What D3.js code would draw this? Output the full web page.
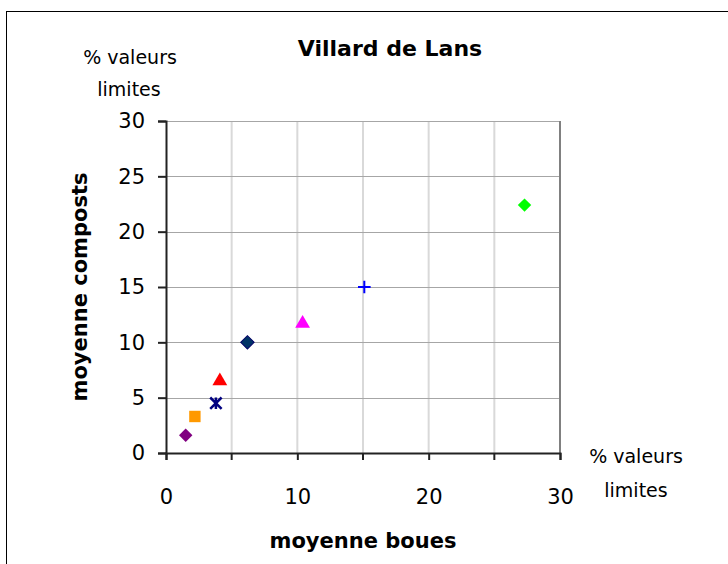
<!DOCTYPE html>
<html>
<head>
<meta charset="utf-8">
<script src="https://cdn.jsdelivr.net/npm/d3@7"></script>
<style>
  body { margin: 0; background: #fff; }
  .lbl { font-family: "Comic Sans MS", "DejaVu Sans", sans-serif; }
  .tick text { font-family: "Comic Sans MS", "DejaVu Sans", sans-serif; font-size: 21px; fill: #000; }
</style>
</head>
<body>
<div id="chart"></div>
<script>
// values
var boues    = [1.5, 2.2, 3.8, 4.1, 6.2, 10.4, 15.1, 27.3];
var composts = [1.6, 3.3, 4.5, 6.5, 10.0, 11.7, 15.0, 22.4];
var ticks = [0, 5, 10, 15, 20, 25, 30];
var xTicks = [0, 10, 20, 30];

// marker look for each point
var markerShapes = ['diamond', 'square', 'star', 'triangle', 'diamond', 'triangle', 'plus', 'diamond'];
var markerColors = ['#800080', '#ff9900', '#000080', '#ff0000', '#003366', '#ff00ff', '#0000ff', '#00ff00'];

var width = 728, height = 564;
var pLeft = 166, pRight = 560, pTop = 121, pBottom = 453;

var svg = d3.select("#chart").append("svg")
    .attr("width", width)
    .attr("height", height);

// chart border
svg.append("rect")
  .attr("x", 6.5).attr("y", 11.5)
  .attr("width", 740).attr("height", 600)
  .attr("fill", "none").attr("stroke", "#000").attr("stroke-width", 1);

var x = d3.scaleLinear().domain([0, 30]).range([pLeft, pRight]);
var y = d3.scaleLinear().domain([0, 30]).range([pBottom, pTop]);

// grid
svg.append("g").selectAll("line")
  .data([5, 10, 15, 20, 25])
  .enter().append("line")
    .attr("x1", function(d) { return x(d); }).attr("x2", function(d) { return x(d); })
    .attr("y1", pTop).attr("y2", pBottom)
    .attr("stroke", "#d9d9d9").attr("stroke-width", 2);

svg.append("g").selectAll("line")
  .data([5, 10, 15, 20, 25, 30])
  .enter().append("line")
    .attr("x1", pLeft).attr("x2", pRight)
    .attr("y1", function(d) { return Math.round(y(d)) + 0.5; })
    .attr("y2", function(d) { return Math.round(y(d)) + 0.5; })
    .attr("stroke", "#a6a6a6").attr("stroke-width", 1);

// right border of plot
svg.append("line")
  .attr("x1", pRight).attr("x2", pRight).attr("y1", pTop).attr("y2", pBottom)
  .attr("stroke", "#808080").attr("stroke-width", 2);

// axes
svg.append("g")
  .attr("transform", "translate(" + pLeft + ",0)")
  .call(d3.axisLeft(y).tickValues(ticks).tickSizeOuter(0).tickSize(8).tickPadding(13));
svg.append("g")
  .attr("transform", "translate(0," + pBottom + ")")
  .call(d3.axisBottom(x).tickValues(xTicks).tickSizeOuter(0).tickSize(7).tickPadding(29));

// extra x ticks without labels
svg.append("g").selectAll("line")
  .data([5, 15, 25])
  .enter().append("line")
    .attr("x1", function(d) { return x(d); }).attr("x2", function(d) { return x(d); })
    .attr("y1", pBottom).attr("y2", pBottom + 7)
    .attr("stroke", "#222").attr("stroke-width", 2);

svg.selectAll(".domain").attr("stroke", "#222").attr("stroke-width", 2);
svg.selectAll(".tick line").attr("stroke", "#222").attr("stroke-width", 2);

// custom line symbols
var plusSym = { draw: function(c, s) { var r = Math.sqrt(s) / 2;
  c.moveTo(-r, 0); c.lineTo(r, 0); c.moveTo(0, -r); c.lineTo(0, r); } };
var starSym = { draw: function(c, s) { var r = Math.sqrt(s) / 2;
  c.moveTo(-r, -r); c.lineTo(r, r); c.moveTo(-r, r); c.lineTo(r, -r);
  c.moveTo(0, -r); c.lineTo(0, r); } };

function symbolFor(shape) {
  if (shape === 'diamond') return d3.symbol().type(d3.symbolSquare).size(90)();
  if (shape === 'square') return d3.symbol().type(d3.symbolSquare).size(130)();
  if (shape === 'triangle') return d3.symbol().type(d3.symbolTriangle).size(95)();
  if (shape === 'plus') return d3.symbol().type(plusSym).size(160)();
  return d3.symbol().type(starSym).size(130)();
}

svg.append("g").selectAll("path")
  .data(boues)
  .enter().append("path")
    .attr("d", function(d, i) { return symbolFor(markerShapes[i]); })
    .attr("transform", function(d, i) {
      var t = "translate(" + x(d) + "," + y(composts[i]) + ")";
      return markerShapes[i] === 'diamond' ? t + "rotate(45)" : t;
    })
    .attr("fill", function(d, i) {
      var s = markerShapes[i];
      return (s === 'plus' || s === 'star') ? "none" : markerColors[i];
    })
    .attr("stroke", function(d, i) {
      var s = markerShapes[i];
      if (s === 'plus' || s === 'star') return markerColors[i];
      return i === 4 ? "#000066" : "none";
    })
    .attr("stroke-width", function(d, i) {
      var s = markerShapes[i];
      if (s === 'star') return 2.5;
      return s === 'plus' ? 2 : 1;
    });

// texts
svg.append("text").attr("class", "lbl")
  .attr("x", 390).attr("y", 56)
  .attr("text-anchor", "middle").style("font-size", "22px").style("font-weight", "bold")
  .text("Villard de Lans");

svg.append("text").attr("class", "lbl")
  .attr("x", 130).attr("y", 64).attr("text-anchor", "middle").style("font-size", "19px")
  .text("% valeurs");
svg.append("text").attr("class", "lbl")
  .attr("x", 129).attr("y", 96).attr("text-anchor", "middle").style("font-size", "19px")
  .text("limites");

svg.append("text").attr("class", "lbl")
  .attr("x", 636).attr("y", 463).attr("text-anchor", "middle").style("font-size", "19px")
  .text("% valeurs");
svg.append("text").attr("class", "lbl")
  .attr("x", 636).attr("y", 497).attr("text-anchor", "middle").style("font-size", "19px")
  .text("limites");

svg.append("text").attr("class", "lbl")
  .attr("transform", "translate(87,287)rotate(-90)")
  .attr("text-anchor", "middle").style("font-size", "21px").style("font-weight", "bold")
  .text("moyenne composts");

svg.append("text").attr("class", "lbl")
  .attr("x", 363).attr("y", 548)
  .attr("text-anchor", "middle").style("font-size", "21px").style("font-weight", "bold")
  .text("moyenne boues");
</script>
</body>
</html>
